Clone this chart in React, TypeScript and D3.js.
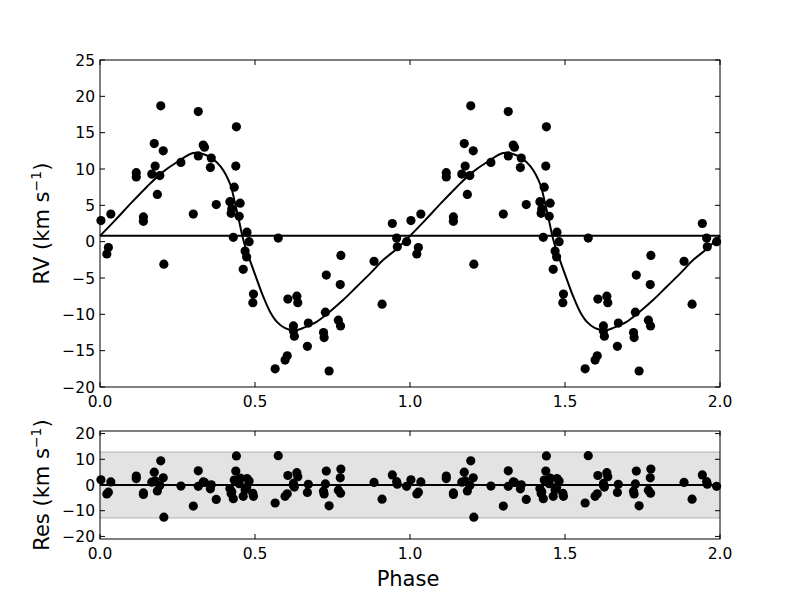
import * as d3 from "d3";

// phase-folded radial velocities (one cycle, drawn twice)
const phases = [
  0.003, 0.022, 0.027, 0.035, 0.117, 0.117, 0.14, 0.14, 0.167, 0.175, 0.178, 0.185, 0.193, 0.196,
  0.204, 0.206, 0.261, 0.301, 0.317, 0.317, 0.333, 0.337, 0.356, 0.359, 0.375, 0.419, 0.423, 0.425,
  0.43, 0.433, 0.438, 0.44, 0.449, 0.452, 0.462, 0.468, 0.473, 0.474, 0.481, 0.493, 0.495, 0.565,
  0.575, 0.597, 0.604, 0.606, 0.624, 0.624, 0.627, 0.635, 0.638, 0.669, 0.672, 0.721, 0.723, 0.727,
  0.73, 0.739, 0.769, 0.775, 0.776, 0.777, 0.884, 0.91, 0.943, 0.957, 0.959, 0.989,
];
const rvs = [
  2.9, -1.7, -0.8, 3.8, 9.5, 8.9, 3.4, 2.8, 9.3, 13.5, 10.4, 6.5, 9.1, 18.7,
  12.5, -3.1, 10.9, 3.8, 17.9, 11.8, 13.3, 13.0, 10.2, 11.5, 5.1, 5.5, 3.9, 4.5,
  0.6, 7.5, 10.4, 15.8, 3.5, 5.3, -3.8, -1.3, -2.1, 1.3, 0.0, -8.4, -7.2, -17.5,
  0.5, -16.3, -15.7, -7.9, -11.6, -12.3, -13.0, -7.5, -8.4, -14.4, -11.2, -12.5, -13.2, -9.7,
  -4.6, -17.8, -10.8, -5.9, -11.6, -1.9, -2.7, -8.6, 2.5, 0.5, -0.7, 0.0,
];
const residuals = [
  2.0, -3.5, -2.8, 1.2, 3.5, 2.5, -3.1, -3.7, 1.1, 5.0, 1.6, -2.3, -0.2, 9.4,
  2.8, -12.5, -0.4, -8.2, 5.5, -0.5, 1.2, 1.0, -1.5, 0.1, -5.6, -1.4, -3.3, -2.6,
  -5.3, 1.9, 5.4, 11.3, 0.5, 2.7, -4.4, -1.8, -0.9, 2.5, 1.6, -3.2, -4.4, -7.0,
  11.4, -4.4, -3.4, 3.7, 0.6, -0.2, -0.8, 4.8, 3.2, -2.9, 0.3, -2.4, -3.5, 0.4,
  5.4, -8.1, -2.0, 2.8, -3.2, 6.2, 1.0, -5.5, 3.9, 1.3, 0.3, -0.5,
];

// fitted orbit
const modelPhase = [
  0.0, 0.05, 0.1, 0.15, 0.2, 0.25, 0.3, 0.33, 0.36, 0.39, 0.42, 0.435, 0.448, 0.459, 0.47, 0.484,
  0.5, 0.527, 0.548, 0.57, 0.597, 0.63, 0.66, 0.7, 0.742, 0.785, 0.828, 0.871, 0.914, 0.957, 1.0,
];
const modelRv = [
  0.8, 3.0, 5.3, 7.5, 9.5, 11.0, 12.2, 12.1, 11.5, 10.3, 7.9, 5.4, 3.0, 0.8, -0.9, -2.6,
  -4.5, -7.6, -9.6, -11.0, -11.9, -12.2, -11.8, -11.0, -9.6, -8.0, -6.2, -4.4, -2.5, -1.0, 0.8,
];
const systemic = 0.8;
const rmsBand = 12.8;

const xTicks = [0, 0.5, 1.0, 1.5, 2.0];
const rvTicks = [-20, -15, -10, -5, 0, 5, 10, 15, 20, 25];
const resTicks = [-20, -10, 0, 10, 20];

const cycles = [0, 1];
const FONT = "'DejaVu Sans', sans-serif";

export default function App() {
  const left = 100;
  const right = 720;
  const top1 = 60;
  const bot1 = 387;
  const top2 = 431;
  const bot2 = 539;

  const x = d3.scaleLinear().domain([0, 2]).range([left, right]);
  const yRv = d3.scaleLinear().domain([-20, 25]).range([bot1, top1]);
  const yRes = d3.scaleLinear().domain([-21, 21]).range([bot2, top2]);

  const pts = cycles.flatMap((k) => phases.map((p, i) => ({ p: p + k, rv: rvs[i], res: residuals[i] })));
  const model = cycles.flatMap((k) =>
    modelPhase.map((p, i) => ({ p: p + k, v: modelRv[i] })).filter((d, i) => k === 0 || i > 0)
  );
  const line = d3
    .line<{ p: number; v: number }>()
    .x((d) => x(d.p))
    .y((d) => yRv(d.v))
    .curve(d3.curveCatmullRom);

  const tk = 5;
  const tickFont = 15.5;

  const frame = (t: number, b: number, yScale: d3.ScaleLinear<number, number>, yt: number[]) => (
    <g>
      <rect x={left} y={t} width={right - left} height={b - t} fill="none" stroke="#000" strokeWidth={1} />
      {xTicks.map((v) => (
        <g key={"x" + v}>
          <line x1={x(v)} x2={x(v)} y1={b} y2={b - tk} stroke="#000" />
          <line x1={x(v)} x2={x(v)} y1={t} y2={t + tk} stroke="#000" />
          <text x={x(v)} y={b + 20} textAnchor="middle" fontSize={tickFont} fontFamily={FONT}>
            {v.toFixed(1)}
          </text>
        </g>
      ))}
      {yt.map((v) => (
        <g key={"y" + v}>
          <line x1={left} x2={left + tk} y1={yScale(v)} y2={yScale(v)} stroke="#000" />
          <line x1={right} x2={right - tk} y1={yScale(v)} y2={yScale(v)} stroke="#000" />
          <text x={95} y={yScale(v) + 5.5} textAnchor="end" fontSize={tickFont} fontFamily={FONT}>
            {v < 0 ? "\u2212" + Math.abs(v) : String(v)}
          </text>
        </g>
      ))}
    </g>
  );

  const yLabel = (word: string, cy: number) => (
    <text
      transform={`translate(49,${cy}) rotate(-90)`}
      textAnchor="middle"
      fontSize={21}
      fontFamily={FONT}
    >
      {word} (km s
      <tspan fontSize={14} dy={-8}>
        {"\u22121"}
      </tspan>
      <tspan dy={8}>)</tspan>
    </text>
  );

  return (
    <div style={{ position: "absolute", left: 0, top: 0 }}>
      <svg width={800} height={600} style={{ display: "block", background: "#fff" }}>
        {/* RV panel */}
        <line x1={left} x2={right} y1={yRv(systemic)} y2={yRv(systemic)} stroke="#000" strokeWidth={2} />
        <path d={line(model) ?? ""} fill="none" stroke="#000" strokeWidth={2} />
        {pts.map((d, i) => (
          <circle key={"rv" + i} cx={x(d.p)} cy={yRv(d.rv)} r={4.6} fill="#000" />
        ))}
        {frame(top1, bot1, yRv, rvTicks)}
        {yLabel("RV", (top1 + bot1) / 2)}

        {/* residual panel */}
        <rect
          x={left}
          y={yRes(rmsBand)}
          width={right - left}
          height={yRes(-rmsBand) - yRes(rmsBand)}
          fill="#e3e3e3"
        />
        <line x1={left} x2={right} y1={yRes(rmsBand)} y2={yRes(rmsBand)} stroke="#bdbdbd" strokeWidth={1.2} />
        <line x1={left} x2={right} y1={yRes(-rmsBand)} y2={yRes(-rmsBand)} stroke="#bdbdbd" strokeWidth={1.2} />
        <line x1={left} x2={right} y1={yRes(0)} y2={yRes(0)} stroke="#000" strokeWidth={2} />
        {pts.map((d, i) => (
          <circle key={"res" + i} cx={x(d.p)} cy={yRes(d.res)} r={4.6} fill="#000" />
        ))}
        {frame(top2, bot2, yRes, resTicks)}
        {yLabel("Res", (top2 + bot2) / 2)}

        <text x={408} y={586} textAnchor="middle" fontSize={21} fontFamily={FONT}>
          Phase
        </text>
      </svg>
    </div>
  );
}
